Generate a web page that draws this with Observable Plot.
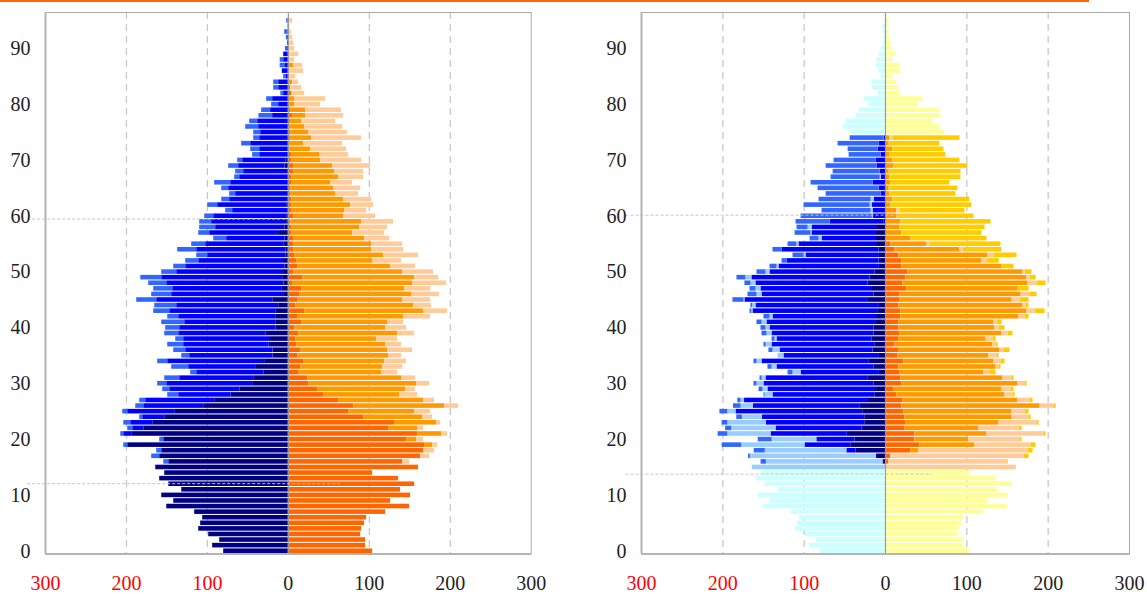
<!DOCTYPE html>
<html><head><meta charset="utf-8">
<script src="https://cdn.jsdelivr.net/npm/d3@7"></script>
<script src="https://cdn.jsdelivr.net/npm/@observablehq/plot@0.6"></script>
<style>
html,body{margin:0;padding:0;background:#fff;}
#wrap{position:relative;width:1147px;height:594px;overflow:hidden;background:#fff;}
#topline{position:absolute;left:0;top:0;width:1089px;height:2px;background:#ff6600;}
#left{position:absolute;left:0;top:0;}
#right{position:absolute;left:580px;top:0;}
#wrap svg, #wrap svg text, #wrap svg g { font-family: "Liberation Serif", "Times New Roman", Times, serif !important; }
</style></head><body>
<div id="wrap"><div id="left"></div><div id="right"></div><div id="topline"></div></div>
<script>
// ages 0..95 (index = age)
const ages = d3.range(96);
const yTickLabels = [0, 10, 20, 30, 40, 50, 60, 70, 80, 90];
const xTickLabels = [-300, -200, -100, 0, 100, 200, 300];
const gridValues = [-200, -100, 100, 200];
const leftRefAges = [60, 12.6];
const rightRefAges = [60.7, 14.3];
const serif = "Liberation Serif";

// ---------- LEFT PANEL ----------
const leftMaleNavy = [
 79.9, 93.5, 84.8, 98.4, 110.7, 108.3, 105.8, 115.7, 150.2, 141.6,
 156.4, 131.7, 147.7, 158.9, 152.7, 163.8, 147.7, 158.9, 156.4, 198.4,
 153.9, 193.5, 178.6, 167.5, 152.7, 140.4, 104.6, 91.0, 70.9, 59.9,
 44.1, 42.8, 30.3, 40.4, 29.3, 19, 19, 24, 22, 27.8,
 15.4, 15.6, 15.6, 15.6, 11.9, 19.3, 5.8, 8.2, 5.3, 7,
 6, 4, 6, 3, 3, 5, 4, 12, 4, 2,
 2, 1, 2, 1, 1, 1, 1, 1, 1, 4,
 3, 0, 0, 0, 0, 0, 0, 0, 0, 0,
 0, 0, 0, 0, 0, 0, 0, 0, 0, 0,
 0, 1, 0, 0, 0, 0];
const leftMaleBlue = [
 0, 0, 0, 0, 0, 0, 0, 0, 0, 0,
 0, 0, 0, 0, 0, 0, 0, 0, 0, 0,
 0, 9.8, 13.6, 27.2, 27.2, 58.0, 74.0, 85.2, 64.5, 86.6,
 106.1, 91.4, 82.9, 82.7, 119.7, 102.9, 107.8, 105.3, 107.3, 107.6,
 118.8, 112.4, 119.8, 130.9, 126.0, 143.3, 138.3, 134.6, 144.9, 149.4,
 131.9, 122.8, 104.7, 96.6, 110.2, 97.1, 72.2, 85.2, 85.8, 92.7,
 90.2, 67.8, 85.3, 71.5, 64.1, 72.7, 70.2, 59.1, 54.2, 57.4,
 53.4, 35.4, 35.4, 46.5, 35.4, 34.2, 36.7, 37.9, 19.4, 21.9,
 12, 19.4, 5.8, 11.9, 11.9, 2.4, 7.5, 3.5, 5.7, 5.7,
 1, 0, 1, 0, 0, 0];
const leftMaleLight = [
 0, 0, 0, 0, 0, 0, 0, 0, 0, 0,
 0, 0, 0, 0, 0, 0, 6.2, 9.9, 6.2, 4.9,
 5.0, 3.7, 6.2, 8.6, 3.7, 6.2, 9.9, 7.4, 13.6, 8.7,
 11.2, 18.5, 7.4, 21.0, 12.4, 9.8, 14.8, 19.7, 9.8, 17.3,
 17.3, 28.4, 13.6, 19.8, 27.2, 24.7, 24.7, 23.5, 22.3, 25.9,
 18.5, 14.8, 16.1, 13.6, 23.5, 17.3, 16.0, 13.5, 19.7, 14.8,
 11.1, 8.6, 12.3, 9.8, 7.4, 8.6, 19.8, 6.2, 9.9, 12.3,
 6.2, 8.7, 11.1, 11.2, 7.4, 8.6, 16.0, 9.9, 16.9, 11.1,
 8.6, 7.4, 3.5, 6.2, 6.2, 3.4, 0, 6.6, 4.4, 0,
 2.5, 0, 1.5, 4.5, 0.5, 2];
const leftFemaleDark = [
 104.1, 95.5, 95.5, 89.3, 90.5, 94.2, 96.7, 120.2, 149.8, 126.3,
 151.0, 138.7, 156.0, 136.2, 104.1, 160.9, 141.2, 163.4, 167.1, 168.3,
 146.1, 159.7, 123.9, 131.3, 93.0, 74.5, 80.7, 62.1, 43.6, 36.2,
 25.1, 23.9, 12.8, 15.2, 18.9, 11.5, 15.2, 10.3, 9.1, 12.8,
 7.8, 16.5, 11.5, 20.2, 9.1, 11.5, 14.0, 16.5, 5.3, 17.7,
 6.6, 11.5, 10.3, 7.8, 6.6, 6.6, 6.6, 4.1, 4.1, 2.9,
 6.6, 4.1, 4.1, 4.1, 2.9, 2.9, 4.1, 4.1, 6.6, 6.6,
 4.1, 4.1, 0.8, 0, 2.9, 2.9, 0, 2.9, 5.3, 2.9,
 0, 0, 4.1, 2.9, 0, 0, 0, 0, 0, 0,
 0, 0, 0, 0, 1.6, 0];
const leftFemaleOrange = [
 0, 0, 0, 0, 0, 0, 0, 0, 0, 0,
 0, 0, 0, 0, 0, 0, 0, 0, 0, 9.9,
 12.3, 29.6, 35.8, 51.8, 72.8, 81.5, 112.3, 105.0, 93.8, 108.7,
 133.3, 116.0, 102.4, 101.3, 100.0, 112.4, 107.4, 109.9, 100.0, 122.2,
 112.4, 106.1, 130.9, 146.9, 145.6, 129.7, 138.3, 127.1, 148.2, 138.3,
 134.6, 114.8, 93.8, 109.9, 96.3, 96.3, 87.6, 75.3, 84.0, 87.6,
 61.7, 65.4, 72.9, 64.2, 55.5, 53.1, 48.2, 58.0, 50.6, 48.1,
 35.8, 34.6, 26.8, 18.9, 25.9, 22.2, 20.2, 13.6, 16.1, 18.5,
 7.8, 7.8, 0, 0, 5.3, 0, 0, 6.6, 0, 0,
 0, 0, 0, 0, 0, 0];
const leftFemalePeach = [
 0, 0, 0, 0, 0, 0, 0, 0, 0, 0,
 0, 0, 0, 0, 0, 0, 8.6, 11.1, 13.6, 6.2,
 8.7, 7.4, 7.4, 5.0, 12.4, 19.7, 17.3, 13.6, 22.3, 12.3,
 16.1, 17.3, 19.8, 24.7, 27.2, 16.0, 30.9, 19.7, 25.9, 21.0,
 25.9, 19.8, 33.3, 29.6, 22.2, 34.5, 34.5, 32.1, 42.0, 29.6,
 38.2, 30.9, 35.8, 43.2, 39.5, 38.3, 30.9, 39.5, 34.5, 39.5,
 39.5, 27.2, 28.3, 34.6, 28.4, 33.3, 27.1, 30.9, 35.8, 46.9,
 50.6, 35.8, 44.4, 48.2, 61.7, 48.2, 46.9, 41.9, 46.9, 44.4,
 32.1, 38.3, 16.1, 13.6, 7.5, 9.1, 18.9, 11.1, 7.8, 12.8,
 7.8, 6.6, 5.3, 3.7, 0, 5.3];

// ---------- RIGHT PANEL ----------
const rightMaleNavy = [
 0, 0, 0, 0, 0, 0, 0, 0, 0, 0,
 0, 0, 0, 0, 0, 0, 3, 11, 36.1, 42.7,
 37.4, 47.0, 28.6, 25.5, 25.5, 28, 31.7, 22, 13.2, 11,
 14.1, 21.1, 7.5, 14.1, 19.8, 8.4, 15.4, 13.2, 16.3, 14.1,
 14.1, 11, 11, 9.7, 7.5, 22, 14.1, 16, 21.5, 19,
 13, 7.5, 8, 7.5, 8, 11, 11, 11, 11, 2,
 0, 0, 0, 0, 0, 0, 0, 0, 0, 0,
 0, 0, 0, 0, 0, 0, 0, 0, 0, 0,
 0, 0, 0, 0, 0, 0, 0, 0, 0, 0,
 0, 0, 0, 0, 0, 0];
const rightMaleBlue = [
 0, 0, 0, 0, 0, 0, 0, 0, 0, 0,
 0, 0, 0, 0, 0, 0, 0, 0, 11.4, 56.2,
 47.0, 93.7, 105.9, 120.9, 125.7, 155.8, 130.6, 151.3, 125.1, 133.5,
 135.3, 125.8, 96.3, 119.3, 132.0, 116.4, 114.3, 126.3, 117.1, 125.4,
 127.9, 134.7, 127.3, 153.2, 151.7, 150.8, 137.7, 137.1, 137.8, 145.2,
 129, 123.4, 113.1, 90.2, 119.2, 95.4, 67, 79.3, 79.3, 66.1,
 15.2, 15.2, 16.4, 14.0, 5.3, 7.8, 15.2, 5.3, 6.6, 10.3,
 11.5, 5.3, 9.0, 7.8, 1.6, 0, 0, 0, 0, 0,
 0, 0, 0, 0, 0, 0, 0, 0, 0, 0,
 0, 0, 0, 0, 0, 0];
const rightMaleSky = [
 0, 0, 0, 0, 0, 0, 0, 0, 0, 0,
 0, 0, 0, 0, 0, 163.8, 143.4, 155.2, 100.3, 77.9,
 55.0, 53.2, 54.6, 47.5, 24.7, 10.1, 15.3, 4.3, 9.9, 6.1,
 8.6, 4.9, 9.9, 6.1, 6.2, 7.3, 8.6, 7.4, 2.4, 6.2,
 5, 6.1, 3.7, 1.6, 4.2, 1.2, 6.2, 6.1, 6.1, 7.4,
 4.9, 2.5, 0, 2.4, 0, 2.4, 3.7, 1.2, 4.9, 0,
 1, 2.5, 2.5, 3.7, 0, 0, 0, 1.2, 0, 0,
 0, 0, 0, 0, 0, 0, 0, 0, 0, 0,
 0, 0, 0, 0, 0, 0, 0, 0, 0, 0,
 0, 0, 0, 0, 0, 0];
const rightMaleMedium = [
 0, 0, 0, 0, 0, 0, 0, 0, 0, 0,
 0, 0, 0, 0, 0, 0, 6.6, 2.2, 13.6, 24.1,
 17.1, 11.9, 7.4, 7.0, 7.0, 9.7, 9.3, 4.0, 1.2, 4.9,
 3.7, 2.5, 6.1, 5.0, 3.7, 0, 5.0, 2.5, 3.7, 6.1,
 6.1, 6.2, 7.4, 2.1, 2.0, 13.6, 11.1, 7.4, 7.4, 11.0,
 11.1, 8.6, 6.1, 13.6, 11.1, 11.0, 11.0, 19.7, 13.6, 41.9,
 87.6, 60.3, 81.2, 64.0, 67.7, 75.1, 76.3, 60.4, 57.8, 62.7,
 51.7, 39.4, 36.9, 50.5, 41.9, 0, 0, 0, 0, 0,
 0, 0, 0, 0, 0, 0, 0, 0, 0, 0,
 0, 0, 0, 0, 0, 0];
const rightMaleCyan = [
 79.9, 93.5, 84.8, 98.4, 110.7, 108.3, 105.8, 115.7, 150.2, 141.6,
 156.4, 131.7, 147.7, 158.9, 152.7, 0, 0, 0, 0, 0,
 0, 0, 0, 0, 0, 0, 0, 0, 0, 0,
 0, 0, 0, 0, 0, 0, 0, 0, 0, 0,
 0, 0, 0, 0, 0, 0, 0, 0, 0, 0,
 0, 0, 0, 0, 0, 0, 0, 0, 0, 0,
 0, 0, 0, 0, 0, 0, 0, 0, 0, 0,
 0, 0, 0, 0, 0, 42.2, 52.1, 48.4, 36.1, 32.4,
 20.7, 26.4, 9.0, 16.4, 16.4, 5.3, 7.8, 11.5, 10.3, 7.8,
 5.3, 2.9, 2, 2.9, 4.1, 0.5];
const rightFemaleDark = [
 0, 0, 0, 0, 0, 0, 0, 0, 0, 0,
 0, 0, 0, 0, 0, 0, 3.7, 6.2, 31.2, 42.3,
 36.1, 36.1, 23.8, 25.0, 23.8, 22.6, 20.1, 21.3, 14.0, 10.3,
 20.1, 18.9, 17.7, 16.4, 22.6, 15.2, 16.0, 11.5, 16.4, 17.7,
 16.4, 16.4, 18.9, 18.9, 16.4, 17.7, 17.7, 26.3, 21.3, 25.0,
 27.5, 20.1, 20.1, 16.4, 11.5, 6.6, 0, 0, 0, 0,
 0, 0, 0, 0, 0, 0, 0, 0, 0, 0,
 0, 0, 0, 0, 0, 0, 0, 0, 0, 0,
 0, 0, 0, 0, 0, 0, 0, 0, 0, 0,
 0, 0, 0, 0, 0, 0];
const rightFemaleOrange = [
 0, 0, 0, 0, 0, 0, 0, 0, 0, 0,
 0, 0, 0, 0, 0, 0, 0, 0, 9.9, 67.7,
 66.5, 88.7, 91.1, 114.6, 131.8, 133.0, 170.0, 141.7, 133.0, 133.0,
 142.9, 125.6, 103.4, 119.5, 110.8, 112.1, 124.8, 120.7, 107.2, 125.6,
 118.2, 117.0, 145.3, 155.2, 152.7, 137.9, 149.0, 136.7, 153.9, 149.0,
 141.6, 123.2, 98.5, 109.6, 80.0, 44.3, 31.2, 20.1, 17.7, 18.9,
 14.0, 14.0, 6.6, 9.0, 5.3, 3.7, 6.6, 5.3, 4.5, 10.3,
 9.0, 5.3, 9.0, 4.5, 5.3, 0, 0, 0, 0, 0,
 0, 0, 0, 0, 0, 0, 0, 0, 0, 0,
 0, 0, 0, 0, 0, 0];
const rightFemalePeach = [
 0, 0, 0, 0, 0, 0, 0, 0, 0, 0,
 0, 0, 0, 0, 0, 160.9, 145.7, 164.2, 134.2, 69.0,
 62.8, 70.2, 49.3, 46.8, 20.9, 16.0, 17.2, 14.8, 9.8, 11.1,
 8.6, 11.1, 7.4, 3.7, 8.6, 9.8, 4.9, 3.7, 8.6, 7.4,
 5.0, 3.7, 7.4, 9.8, 3.7, 9.8, 11.1, 0, 11.1, 3.7,
 2.5, 0, 6.2, 7.4, 3.7, 3.7, 0, 0, 0, 0,
 0, 3.7, 0, 0, 0, 0, 0, 0, 0, 0,
 0, 0, 0, 0, 3.7, 0, 0, 0, 0, 0,
 0, 0, 0, 0, 0, 0, 0, 0, 0, 0,
 0, 0, 0, 0, 0, 0];
const rightFemaleGold = [
 0, 0, 0, 0, 0, 0, 0, 0, 0, 0,
 0, 0, 0, 0, 0, 0, 1.5, 6.1, 6.1, 6.1,
 2.5, 2.5, 3.7, 2.4, 2.5, 4.9, 2.5, 3.6, 2.5, 3.6,
 2.5, 2.4, 7.4, 2.4, 5.0, 2.5, 7.4, 2.4, 3.7, 6.1,
 7.3, 6.2, 4.9, 12.3, 3.7, 11.1, 8.6, 13.5, 11.1, 7.4,
 8.6, 14.8, 15.1, 28.3, 48.0, 87.4, 93.6, 98.5, 104.7, 110.8,
 94.8, 80.0, 99.7, 94.8, 81.3, 85.4, 72.6, 87.4, 88.3, 91.1,
 82.5, 69.0, 62.8, 62.4, 82.5, 0, 0, 0, 0, 0,
 0, 0, 0, 0, 0, 0, 0, 0, 0, 0,
 0, 0, 0, 0, 0, 0];
const rightFemaleYellow = [
 104.1, 95.5, 95.5, 89.3, 90.5, 94.2, 96.7, 120.2, 149.8, 126.3,
 151.0, 138.7, 156.0, 136.2, 104.1, 0, 0, 0, 0, 0,
 0, 0, 0, 0, 0, 0, 0, 0, 0, 0,
 0, 0, 0, 0, 0, 0, 0, 0, 0, 0,
 0, 0, 0, 0, 0, 0, 0, 0, 0, 0,
 0, 0, 0, 0, 0, 0, 0, 0, 0, 0,
 0, 0, 0, 0, 0, 0, 0, 0, 0, 0,
 0, 0, 0, 0, 0, 73.1, 66.9, 58.3, 68.1, 66.9,
 39.8, 46.0, 18.9, 16.4, 14.0, 9.0, 18.9, 17.7, 8.2, 12.7,
 8.2, 6.6, 5.3, 4.1, 2.9, 4.1];

// series definitions (inner to outer)
const leftMale = [
  {values: leftMaleNavy, color: "#000080"},
  {values: leftMaleBlue, color: "#0000ff"},
  {values: leftMaleLight, color: "#3366ff"}];
const leftFemale = [
  {values: leftFemaleDark, color: "#ff6600"},
  {values: leftFemaleOrange, color: "#ff9900"},
  {values: leftFemalePeach, color: "#ffcc99"}];
const rightMale = [
  {values: rightMaleNavy, color: "#000080"},
  {values: rightMaleBlue, color: "#0000ff"},
  {values: rightMaleSky, color: "#99ccff"},
  {values: rightMaleMedium, color: "#3366ff"},
  {values: rightMaleCyan, color: "#ccffff"}];
const rightFemale = [
  {values: rightFemaleDark, color: "#ff6600"},
  {values: rightFemaleOrange, color: "#ff9900"},
  {values: rightFemalePeach, color: "#ffcc99"},
  {values: rightFemaleGold, color: "#ffcc00"},
  {values: rightFemaleYellow, color: "#ffff99"}];

const bad = [...leftMale, ...leftFemale, ...rightMale, ...rightFemale]
  .map((s, i) => [i, s.values.length]).filter(([, n]) => n !== 96);
if (bad.length) throw new Error("bad lengths " + JSON.stringify(bad));

function buildRows(male, female) {
  const rows = [];
  for (const age of ages) {
    let acc = 0;
    for (const s of male) {
      const v = s.values[age];
      if (v > 0) rows.push({age, color: s.color, x1: -acc, x2: -(acc + v)});
      acc += v;
    }
    acc = 0;
    for (const s of female) {
      const v = s.values[age];
      if (v > 0) rows.push({age, color: s.color, x1: acc, x2: acc + v});
      acc += v;
    }
  }
  return rows;
}

function pyramid({width, marginLeft, marginRight, male, female, refs, refX1, refX2}) {
  const rows = buildRows(male, female);
  return Plot.plot({
    width, height: 594,
    marginTop: 12, marginBottom: 40.5, marginLeft, marginRight,
    style: {background: "white"},
    x: {domain: [-300, 300], axis: null},
    y: {domain: [0, 97], axis: null},
    color: {type: "identity"},
    marks: [
      Plot.ruleX(gridValues, {stroke: "#c8c8c8", strokeWidth: 1.3, strokeDasharray: "7,5"}),
      Plot.rect(rows, {x1: "x1", x2: "x2", y1: "age", y2: d => d.age + 1, fill: "color", insetTop: 0.5, insetBottom: 0.5}),
      Plot.ruleX([0], {stroke: "#999999", strokeWidth: 1.2}),
      Plot.ruleY(refs, {x1: refX1, x2: refX2, stroke: "#c4c4c4", strokeWidth: 1, strokeDasharray: "3,2"}),
      Plot.frame({stroke: "#a8a8a8", strokeWidth: 1}),
      Plot.ruleX([-300], {stroke: "#b4b4b4", strokeWidth: 2}),
      Plot.ruleY([0], {stroke: "#b4b4b4", strokeWidth: 2}),
      Plot.text(yTickLabels, {y: d => d + 0.5, frameAnchor: "left", dx: -15, textAnchor: "end",
        text: d => String(d), fontSize: 20, fontFamily: serif, fill: "#222"}),
      Plot.text(xTickLabels, {x: d => d, frameAnchor: "bottom", dy: 36,
        text: d => String(Math.abs(d)), fill: d => d < 0 ? "#ff0000" : "#222", fontSize: 20, fontFamily: serif})
    ]
  });
}

document.getElementById("left").append(pyramid({
  width: 580, marginLeft: 45, marginRight: 49.3,
  male: leftMale, female: leftFemale, refs: leftRefAges, refX1: -322, refX2: 64
}));
document.getElementById("right").append(pyramid({
  width: 567, marginLeft: 61, marginRight: 18,
  male: rightMale, female: rightFemale, refs: rightRefAges, refX1: -319, refX2: 58
}));
</script>
</body></html>
